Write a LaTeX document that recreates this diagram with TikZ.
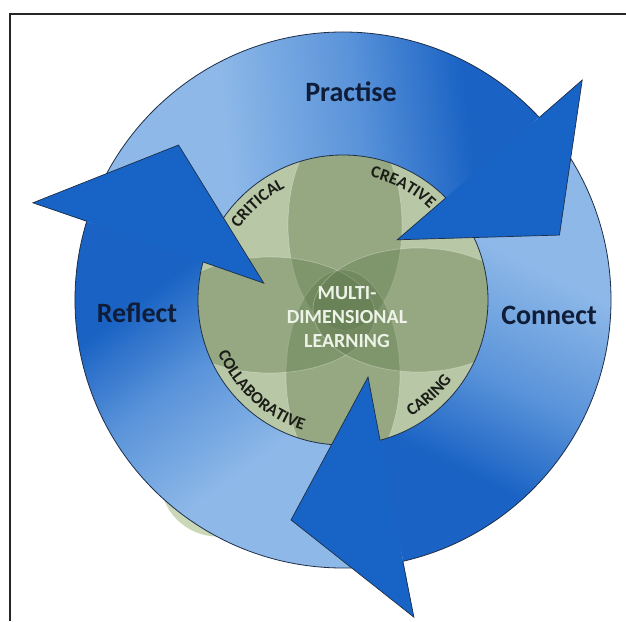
\documentclass[tikz,border=0pt]{standalone}
\usepackage{fontspec}
\setmainfont{Carlito}
\usetikzlibrary{decorations.text}
\definecolor{lightb}{HTML}{8DB8E8}
\definecolor{midb}{HTML}{5B94DA}
\definecolor{darkb}{HTML}{1A63C4}
\definecolor{headb}{HTML}{1764C6}
\definecolor{edgec}{HTML}{1E2E48}
\definecolor{sage}{HTML}{B8C7A5}
\definecolor{petal}{HTML}{5D774A}
\definecolor{navy}{HTML}{0F1D38}
\definecolor{textw}{HTML}{EEF3E8}
\definecolor{lblc}{HTML}{1A1C18}
\definecolor{paleg}{HTML}{CAD8B7}
\pgfdeclarehorizontalshading{ringshade}{100bp}{color(0bp)=(lightb); color(40bp)=(lightb); color(55bp)=(midb); color(68bp)=(darkb); color(100bp)=(darkb)}
\newcommand\lblfnt{\fontsize{17}{17}\selectfont\bfseries\color{lblc}}
\begin{document}
\begin{tikzpicture}[x=1pt,y=1pt,
  body/.style={shading=ringshade},
  headedge/.style={draw=edgec, line width=0.7pt, line join=miter},
  petalst/.style={fill=petal, fill opacity=0.38, draw=white, draw opacity=0.3, line width=0.7pt},
  biglbl/.style={font=\fontsize{28}{30}\selectfont\bfseries, text=navy},
  arclbl/.style={decorate, decoration={text along path, text align=center, text={#1}}}
]
\useasboundingbox (-343,-321) rectangle (283,300);
\draw[line width=1.5pt, black!85] (-333,-321) -- (-333,286) -- (283,286);

% pale green protrusion (reflection of the flower)
\fill[paleg] (235:218) circle (58);

% arrow bodies
\shade[body, shading angle=6.5] (43:145) -- (43:268) arc[start angle=43,end angle=163,radius=268] -- (163:145) arc[start angle=163,end angle=43,radius=145] -- cycle;
\shade[body, shading angle=-116] (-77:145) -- (-77:268) arc[start angle=-77,end angle=43,radius=268] -- (43:145) arc[start angle=43,end angle=-77,radius=145] -- cycle;
\shade[body, shading angle=126.5] (163:145) -- (163:268) arc[start angle=163,end angle=283,radius=268] -- (283:145) arc[start angle=283,end angle=163,radius=145] -- cycle;
\draw[edgec, line width=0.8pt] (0,0) circle (268);

% flower
\fill[sage] (0,0) circle (145);
\begin{scope}
  \clip (0,0) circle (145);
  \path[petalst] (2,75) ellipse [x radius=57, y radius=105];
  \path[petalst] (0,-75) ellipse [x radius=57, y radius=105];
  \path[petalst] (-73,-15) ellipse [x radius=105, y radius=58];
  \path[petalst] (75,-10) ellipse [x radius=105, y radius=62];
\end{scope}
\draw[edgec, line width=0.8pt] (0,0) circle (145);

% arrow heads
\foreach \r in {0,-120,120}{
  \begin{scope}[rotate=\r]
    \fill[headb] (42.6:325) -- (16.7:226) -- (48:81) -- cycle;
    \draw[headedge] (42.9:268) -- (42.6:325) -- (16.7:226) -- (48:81) -- (44.8:145);
  \end{scope}
}

% labels on the flower rim
\path[arclbl={|\lblfnt|CRITICAL}] (166.5:126) arc[start angle=166.5,end angle=96.5,radius=126];
\path[arclbl={|\lblfnt|CREATIVE}] (97:126) arc[start angle=97,end angle=27,radius=126];
\path[arclbl={|\lblfnt|COLLABORATIVE}] (183:136) arc[start angle=183,end angle=273,radius=136];
\path[arclbl={|\lblfnt|CARING}] (-83:135) arc[start angle=-83,end angle=-13,radius=135];

\node[font=\fontsize{20}{24}\selectfont\bfseries, text=textw, align=center] (mdl) at (4,-17) {MULTI-\\DIMENSIONAL\\LEARNING};

\node[biglbl] (practise) at (8,208) {Practise};
\node[biglbl] (reflect) at (-206,-13) {Reflect};
\node[biglbl] (connect) at (206,-15) {Connect};
\end{tikzpicture}
\end{document}
